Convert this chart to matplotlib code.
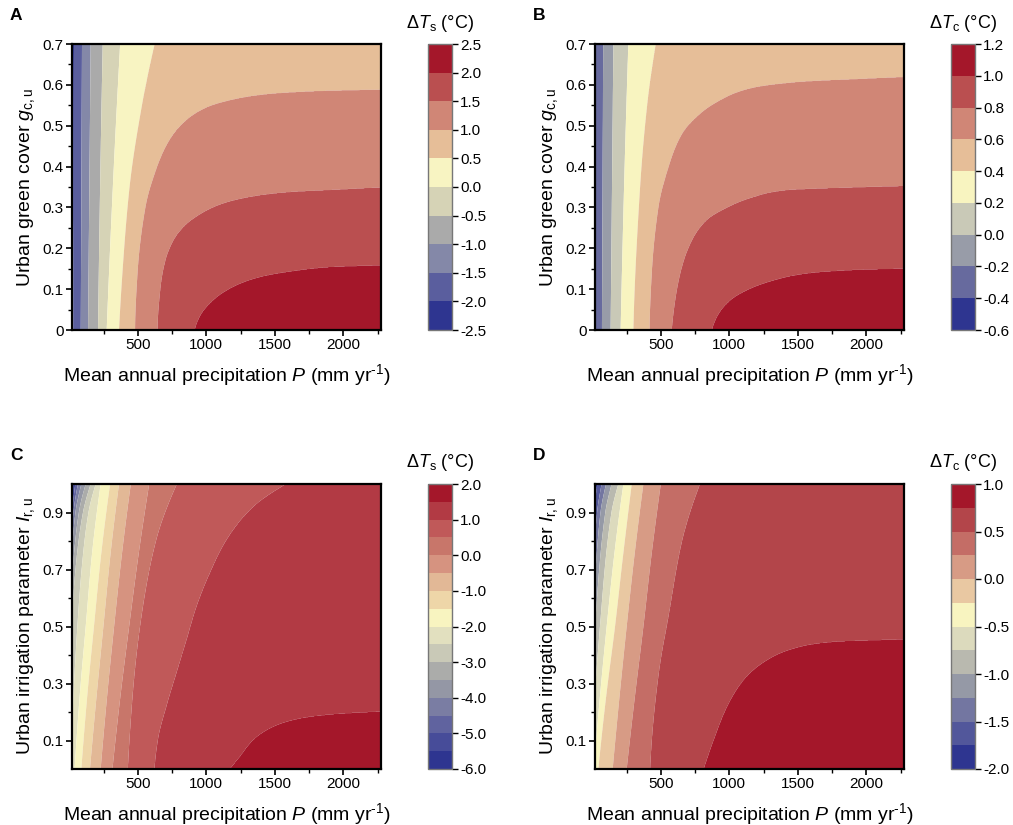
import numpy as np
import matplotlib
matplotlib.use("Agg")
import matplotlib.pyplot as plt
from matplotlib.ticker import MultipleLocator, FixedLocator

plt.rcParams['font.family'] = ['Liberation Sans', 'DejaVu Sans']
plt.rcParams['mathtext.fontset'] = 'custom'
plt.rcParams['mathtext.rm'] = 'Liberation Sans'
plt.rcParams['mathtext.it'] = 'Liberation Sans:italic'
plt.rcParams['mathtext.bf'] = 'Liberation Sans:bold'

P_MIN, P_MAX = 20, 2275
FAR_LEFT, FAR_RIGHT = -400.0, 1.0e5

# ---------------- Panel A : surface temperature vs green cover ----------------
A_levels = [-2.5, -2.0, -1.5, -1.0, -0.5, 0.0, 0.5, 1.0, 1.5, 2.0, 2.5]
A_colors = ['#2E3590', '#5A5E9E', '#8488A8', '#AAAAAA', '#D6D3B6',
            '#F8F4C2', '#E6BE98', '#D08676', '#BA4F50', '#A4172A']
# traced contour boundaries: y positions and P positions for each level
A_bound_y = [[0, 0.7], [0, 0.7], [0, 0.7], [0, 0.7], [0, 0.35, 0.7], [0, 0.35, 0.7],
             [0, 0.14, 0.35, 0.55, 0.7],
             [0, 0.14, 0.30, 0.40, 0.465, 0.51, 0.545, 0.565, 0.578, 0.585, 0.589],
             [0, 0.10, 0.17, 0.22, 0.255, 0.285, 0.31, 0.327, 0.338, 0.344, 0.350],
             [0, 0.033, 0.073, 0.106, 0.13, 0.147, 0.155, 0.159],
             [0, 0.7]]
A_bound_x = [[FAR_LEFT, FAR_LEFT], [31, 35], [84, 93], [137, 156], [210, 225, 244], [273, 318, 371],
             [363, 388, 440, 530, 622],
             [480, 498, 555, 640, 730, 840, 1000, 1200, 1450, 1800, 2300],
             [644, 664, 700, 760, 840, 960, 1120, 1330, 1600, 1950, 2300],
             [915, 951, 1049, 1195, 1390, 1683, 1927, 2300],
             [FAR_RIGHT, FAR_RIGHT]]

# ---------------- Panel B : canopy temperature vs green cover ----------------
B_levels = [-0.6, -0.4, -0.2, 0.0, 0.2, 0.4, 0.6, 0.8, 1.0, 1.2]
B_colors = ['#2E3590', '#676A9E', '#989CA8', '#C9C9B7', '#F8F4C0',
            '#E6BE98', '#D08676', '#BA4F50', '#A4172A']
B_bound_y = [[0, 0.7], [0, 0.7], [0, 0.7], [0, 0.7], [0, 0.35, 0.7], [0, 0.35, 0.55, 0.7],
             [0, 0.139, 0.302, 0.40, 0.48, 0.53, 0.563, 0.592, 0.608, 0.614, 0.620],
             [0, 0.073, 0.155, 0.22, 0.27, 0.30, 0.326, 0.343, 0.348, 0.353],
             [0, 0.033, 0.073, 0.098, 0.122, 0.139, 0.147, 0.151],
             [0, 0.7]]
B_bound_x = [[FAR_LEFT, FAR_LEFT], [-40, -40], [71, 80], [134, 154], [207, 232, 263], [300, 349, 400, 462],
             [418, 434, 483, 556, 654, 788, 934, 1154, 1520, 1885, 2300],
             [580, 605, 654, 727, 837, 983, 1178, 1422, 1763, 2300],
             [873, 910, 1007, 1129, 1324, 1568, 1885, 2300],
             [FAR_RIGHT, FAR_RIGHT]]

# ---------------- Panel C : surface temperature vs irrigation ----------------
C_levels = [-6.0, -5.5, -5.0, -4.5, -4.0, -3.5, -3.0, -2.5, -2.0, -1.5, -1.0,
            -0.5, 0.0, 0.5, 1.0, 1.5, 2.0]
C_colors = ['#2E3590', '#474C99', '#60639F', '#7A7DA3', '#9497A5', '#ABACAA',
            '#C9C9B7', '#E2E0BF', '#F8F4C0', '#EED6A8', '#E2B896', '#D69380',
            '#C8766A', '#C05959', '#B23A44', '#A4172A']
C_bound_y = [[0, 1.0], [0, 0.7, 0.95, 1.0], [0, 0.7, 0.9, 1.0], [0, 0.7, 0.9, 1.0],
             [0, 0.5, 0.7, 0.9, 1.0], [0, 0.5, 0.7, 0.9, 1.0],
             [0, 0.3, 0.5, 0.7, 0.9, 1.0], [0, 0.3, 0.5, 0.7, 0.9, 1.0],
             [0, 0.25, 0.5, 0.75, 1.0], [0, 0.25, 0.5, 0.75, 1.0],
             [0, 0.25, 0.5, 0.75, 1.0], [0, 0.25, 0.5, 0.75, 1.0],
             [0, 0.25, 0.5, 0.75, 1.0],
             [0, 0.102, 0.336, 0.57, 0.804, 1.0],
             [0, 0.102, 0.219, 0.336, 0.453, 0.570, 0.687, 0.804, 0.92, 1.0],
             [0, 0.044, 0.102, 0.149, 0.178, 0.193, 0.203],
             [0, 1.0]]
C_bound_x = [[FAR_LEFT, FAR_LEFT], [-140, -20, 15, 27], [-120, -10, 20, 44], [-100, 0, 30, 63],
             [-80, -15, 10, 45, 88], [-60, 0, 25, 70, 120],
             [-40, -10, 15, 45, 100, 156], [8, 35, 59, 90, 140, 193],
             [39, 75, 120, 165, 229], [88, 130, 180, 232, 298],
             [151, 198, 249, 300, 363], [229, 275, 327, 383, 449],
             [315, 372, 437, 505, 583],
             [427, 439, 476, 537, 634, 785],
             [622, 646, 707, 780, 854, 927, 1024, 1146, 1341, 1580],
             [1171, 1244, 1341, 1488, 1683, 1927, 2300],
             [FAR_RIGHT, FAR_RIGHT]]

# ---------------- Panel D : canopy temperature vs irrigation ----------------
D_levels = [-2.0, -1.75, -1.5, -1.25, -1.0, -0.75, -0.5, -0.25, 0.0, 0.25, 0.5, 0.75, 1.0]
D_colors = ['#2E3590', '#52579B', '#7376A1', '#9599A6', '#B9B9AF', '#DCDABD',
            '#F8F4C0', '#E9C8A2', '#D79B85', '#C46D66', '#B3454A', '#A4172A']
D_bound_y = [[0, 1.0], [0, 0.5, 0.9, 1.0], [0, 0.5, 0.9, 1.0], [0, 0.5, 0.9, 1.0],
             [0, 0.5, 0.9, 1.0], [0, 0.5, 0.9, 1.0],
             [0, 0.25, 0.5, 0.75, 1.0], [0, 0.25, 0.5, 0.75, 1.0],
             [0, 0.25, 0.5, 0.75, 1.0], [0, 0.25, 0.5, 0.75, 1.0],
             [0, 0.1, 0.33, 0.55, 0.8, 1.0],
             [0, 0.102, 0.219, 0.313, 0.383, 0.430, 0.447, 0.456],
             [0, 1.0]]
D_bound_x = [[FAR_LEFT, FAR_LEFT], [-100, -30, 15, 37], [-80, -15, 35, 68], [-60, 0, 60, 100],
             [-40, 20, 95, 141], [-15, 56, 140, 190],
             [10, 55, 105, 160, 227], [44, 100, 166, 225, 288],
             [149, 198, 251, 308, 373], [251, 310, 373, 432, 500],
             [422, 434, 483, 560, 654, 785],
             [812, 885, 983, 1105, 1276, 1520, 1763, 2300],
             [FAR_RIGHT, FAR_RIGHT]]


def pchip(xk, yk, xq):
    """Monotone piecewise-cubic Hermite interpolation (Fritsch-Carlson)."""
    xk = np.asarray(xk, float)
    yk = np.asarray(yk, float)
    n = len(xk)
    if n == 2:
        return np.interp(xq, xk, yk)
    h = np.diff(xk)
    d = np.diff(yk) / h
    m = np.zeros(n)
    for k in range(1, n - 1):
        if d[k - 1] * d[k] <= 0:
            m[k] = 0.0
        else:
            w1 = 2 * h[k] + h[k - 1]
            w2 = h[k] + 2 * h[k - 1]
            m[k] = (w1 + w2) / (w1 / d[k - 1] + w2 / d[k])

    def end_slope(h0, h1, d0, d1):
        s = ((2 * h0 + h1) * d0 - h0 * d1) / (h0 + h1)
        if np.sign(s) != np.sign(d0):
            s = 0.0
        elif np.sign(d0) != np.sign(d1) and abs(s) > abs(3 * d0):
            s = 3 * d0
        return s

    m[0] = end_slope(h[0], h[1], d[0], d[1])
    m[-1] = end_slope(h[-1], h[-2], d[-1], d[-2])
    xq = np.atleast_1d(np.asarray(xq, float))
    i = np.clip(np.searchsorted(xk, xq) - 1, 0, n - 2)
    t = (xq - xk[i]) / h[i]
    h00 = 2 * t ** 3 - 3 * t ** 2 + 1
    h10 = t ** 3 - 2 * t ** 2 + t
    h01 = -2 * t ** 3 + 3 * t ** 2
    h11 = t ** 3 - t ** 2
    return h00 * yk[i] + h10 * h[i] * m[i] + h01 * yk[i + 1] + h11 * h[i] * m[i + 1]


def build_field(levels, bys, bxs, ymax, nx=900, ny=700):
    x = np.linspace(P_MIN, P_MAX, nx)
    y = np.linspace(0, ymax, ny)
    cross_all = np.empty((len(levels), ny))
    for k, (by, bx) in enumerate(zip(bys, bxs)):
        c = pchip(by, bx, y)
        c = np.where(y < by[0], bx[0], c)
        c = np.where(y > by[-1] + 1e-12, FAR_RIGHT * 0.5, c)
        cross_all[k] = c
    cross_all[-1] = np.maximum(cross_all[-1], FAR_RIGHT)
    Z = np.empty((ny, nx))
    for j in range(ny):
        cross = cross_all[:, j].copy()
        for k in range(1, len(cross)):
            if cross[k] <= cross[k - 1]:
                cross[k] = cross[k - 1] + 1e-3 * (k + 1)
        Z[j] = np.interp(x, cross, levels)
    return x, y, Z


FIG_W, FIG_H = 1013, 825
fig = plt.figure(figsize=(FIG_W / 100, FIG_H / 100), dpi=100)


def px_axes(l, r, t, b):
    return [l / FIG_W, 1 - b / FIG_H, (r - l) / FIG_W, (b - t) / FIG_H]


panels = [
    dict(letter='A', levels=A_levels, colors=A_colors, by=A_bound_y, bx=A_bound_x,
         ymax=0.7, ylab=r'Urban green cover $g_{\mathrm{c,u}}$',
         cblab=r'$\Delta T_{\mathrm{s}}$ (°C)', cbticks=A_levels,
         ax=(72, 381, 44, 330), cax=(428, 452, 44, 330)),
    dict(letter='B', levels=B_levels, colors=B_colors, by=B_bound_y, bx=B_bound_x,
         ymax=0.7, ylab=r'Urban green cover $g_{\mathrm{c,u}}$',
         cblab=r'$\Delta T_{\mathrm{c}}$ (°C)', cbticks=B_levels,
         ax=(595, 904, 44, 330), cax=(951, 975, 44, 330)),
    dict(letter='C', levels=C_levels, colors=C_colors, by=C_bound_y, bx=C_bound_x,
         ymax=1.0, ylab=r'Urban irrigation parameter $I_{\mathrm{r,u}}$',
         cblab=r'$\Delta T_{\mathrm{s}}$ (°C)', cbticks=C_levels[::2],
         ax=(72, 381, 484, 769), cax=(428, 452, 484, 769)),
    dict(letter='D', levels=D_levels, colors=D_colors, by=D_bound_y, bx=D_bound_x,
         ymax=1.0, ylab=r'Urban irrigation parameter $I_{\mathrm{r,u}}$',
         cblab=r'$\Delta T_{\mathrm{c}}$ (°C)', cbticks=D_levels[::2],
         ax=(595, 904, 484, 769), cax=(951, 975, 484, 769)),
]

for p in panels:
    ax = fig.add_axes(px_axes(*p['ax']))
    x, y, Z = build_field(p['levels'], p['by'], p['bx'], p['ymax'])
    cs = ax.contourf(x, y, Z, levels=p['levels'], colors=p['colors'], antialiased=True)
    ax.set_xlim(P_MIN, P_MAX)
    ax.set_ylim(0, p['ymax'])
    ax.xaxis.set_major_locator(FixedLocator([500, 1000, 1500, 2000]))
    ax.xaxis.set_minor_locator(FixedLocator([250, 750, 1250, 1750, 2250]))
    if p['ymax'] < 0.9:
        ax.set_yticks(np.arange(0, 0.71, 0.1))
        ax.set_yticklabels(['0'] + ['%.1f' % v for v in np.arange(0.1, 0.71, 0.1)])
        ax.yaxis.set_minor_locator(MultipleLocator(0.05))
    else:
        ax.set_yticks([0.1, 0.3, 0.5, 0.7, 0.9])
        ax.set_yticklabels(['0.1', '0.3', '0.5', '0.7', '0.9'])
        ax.yaxis.set_minor_locator(FixedLocator([0.2, 0.4, 0.6, 0.8]))
    for s in ax.spines.values():
        s.set_linewidth(1.6)
        s.set_color('black')
    ax.tick_params(which='major', direction='out', length=4, width=1.2, labelsize=11,
                   top=False, right=False, pad=2)
    ax.tick_params(which='minor', direction='out', length=3, width=1.0, top=False, right=False)
    ax.set_xlabel(r'Mean annual precipitation $P$ (mm yr$^{\text{-1}}$)', fontsize=14,
                  labelpad=7)
    ax.set_ylabel(p['ylab'], fontsize=14, labelpad=4)

    cax = fig.add_axes(px_axes(*p['cax']))
    cb = fig.colorbar(cs, cax=cax, ticks=p['cbticks'])
    cb.outline.set_edgecolor('#777777')
    cb.outline.set_linewidth(1.0)
    cb.ax.set_yticklabels(['%.1f' % t for t in p['cbticks']])
    cb.ax.tick_params(direction='out', length=4, width=1.0, labelsize=11, pad=2)
    cb.ax.minorticks_off()

    l, r, t, b = p['ax']
    cl, cr, ct, cbm = p['cax']
    fig.text((cl + 12) / FIG_W, 1 - (t - 21) / FIG_H, p['cblab'], fontsize=13,
             ha='center', va='center')
    fig.text((l - 62) / FIG_W, 1 - (t - 29) / FIG_H, p['letter'], fontsize=12.5,
             fontweight='bold', ha='left', va='center')

fig.savefig('out.png', dpi=100)
